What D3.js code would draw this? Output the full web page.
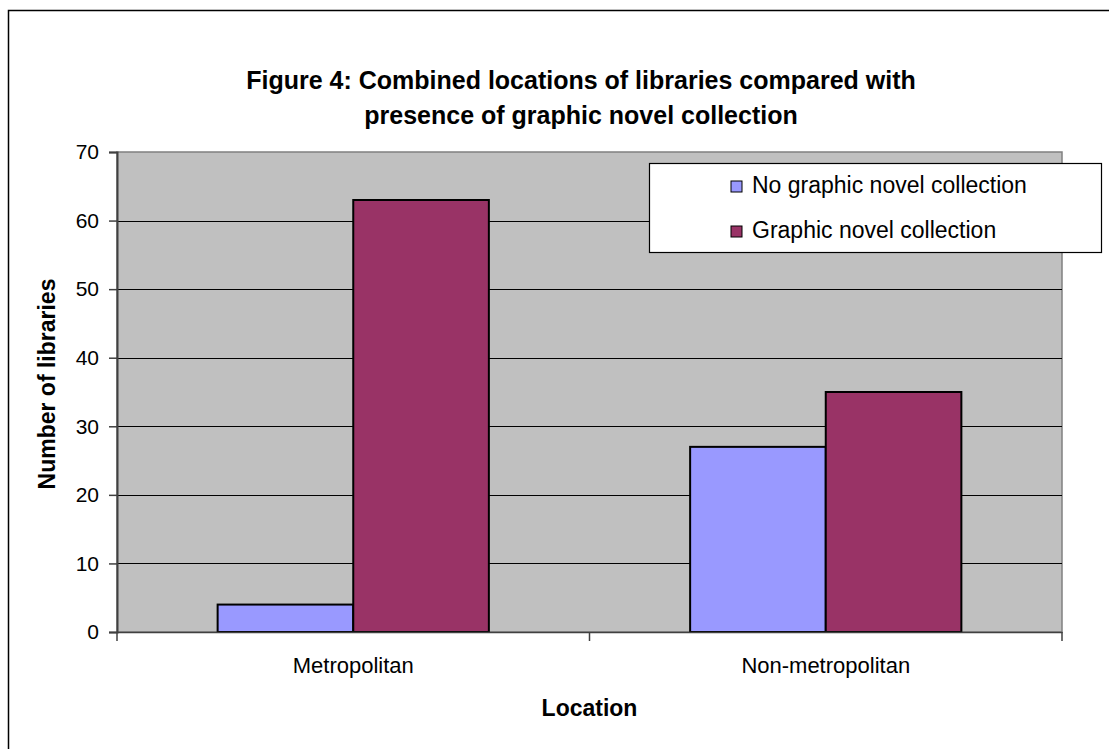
<!DOCTYPE html>
<html>
<head>
<meta charset="utf-8">
<script src="https://cdn.jsdelivr.net/npm/d3@7"></script>
<style>
  body { margin: 0; background: #fff; }
  svg { display: block; font-family: "Liberation Sans", Arial, sans-serif; }
</style>
</head>
<body>
<svg id="chart" width="1109" height="749"></svg>
<script>
"use strict";

// chart data
var categories = ["Metropolitan", "Non-metropolitan"];
var seriesNames = ["No graphic novel collection", "Graphic novel collection"];
var noCollection = [4, 27];
var withCollection = [63, 35];
var yTicks = [0, 10, 20, 30, 40, 50, 60, 70];
var titleLines = ["Figure 4: Combined locations of libraries compared with",
	"presence of graphic novel collection"];

var colors = ["#9999FF", "#993366"];
var values = [noCollection, withCollection];

var svg = d3.select("#chart");

// outer frame (runs off the right and bottom edge)
svg.append("rect")
	.attr("x", 8.5).attr("y", 10.5)
	.attr("width", 1120).attr("height", 760)
	.attr("fill", "#fff")
	.attr("stroke", "#000")
	.attr("stroke-width", 1.5);

var plot = { left: 117, right: 1062, top: 152, bottom: 632 };

var x = d3.scaleBand()
	.domain(categories)
	.range([plot.left, plot.right]);

var xInner = d3.scaleBand()
	.domain(seriesNames)
	.range([0, x.bandwidth()])
	.paddingOuter(0.742);

var y = d3.scaleLinear()
	.domain([0, 70])
	.range([plot.bottom, plot.top]);

// plot background
svg.append("rect")
	.attr("x", plot.left).attr("y", plot.top)
	.attr("width", plot.right - plot.left)
	.attr("height", plot.bottom - plot.top)
	.attr("fill", "#C0C0C0")
	.attr("stroke", "#808080")
	.attr("stroke-width", 1.5);

// gridlines
svg.append("g")
	.selectAll("line")
	.data(yTicks.filter(function (d) { return d > 0 && d < 70; }))
	.join("line")
	.attr("x1", plot.left).attr("x2", plot.right)
	.attr("y1", function (d) { return Math.round(y(d)) + 0.5; })
	.attr("y2", function (d) { return Math.round(y(d)) + 0.5; })
	.attr("stroke", "#000")
	.attr("stroke-width", 1.2);

// bars
var groups = svg.append("g")
	.selectAll("g")
	.data(categories)
	.join("g")
	.attr("transform", function (d) { return "translate(" + x(d) + ",0)"; });

groups.selectAll("rect")
	.data(function (d, i) {
		return seriesNames.map(function (s, j) {
			return { series: s, value: values[j][i], color: colors[j] };
		});
	})
	.join("rect")
	.attr("x", function (d) { return xInner(d.series); })
	.attr("y", function (d) { return y(d.value); })
	.attr("width", xInner.bandwidth())
	.attr("height", function (d) { return plot.bottom - y(d.value); })
	.attr("fill", function (d) { return d.color; })
	.attr("stroke", "#000")
	.attr("stroke-width", 2);

// y axis
var yAxis = svg.append("g")
	.attr("transform", "translate(" + plot.left + ",0)")
	.call(d3.axisLeft(y).tickValues(yTicks).tickSize(8).tickPadding(10));
yAxis.select(".domain").attr("stroke", "#404040").attr("stroke-width", 2);
yAxis.selectAll(".tick line").attr("stroke", "#404040").attr("stroke-width", 1.5);
yAxis.selectAll("text")
	.attr("font-size", 21)
	.attr("fill", "#000")
	.style("font-family", "'Liberation Sans', Arial, sans-serif");

// x axis
var xAxis = svg.append("g")
	.attr("transform", "translate(0," + plot.bottom + ")")
	.call(d3.axisBottom(x).tickSize(0).tickPadding(25));
xAxis.select(".domain").attr("stroke", "#404040").attr("stroke-width", 1.5);
xAxis.selectAll("text")
	.attr("font-size", 22)
	.attr("fill", "#000")
	.style("font-family", "'Liberation Sans', Arial, sans-serif");

// x tick marks sit between the categories
svg.append("g")
	.selectAll("line")
	.data([plot.left, x(categories[1]), plot.right])
	.join("line")
	.attr("x1", function (d) { return d; }).attr("x2", function (d) { return d; })
	.attr("y1", plot.bottom).attr("y2", plot.bottom + 9)
	.attr("stroke", "#404040")
	.attr("stroke-width", 1.5);

// title
svg.append("text")
	.attr("x", 581).attr("y", 89)
	.attr("text-anchor", "middle")
	.attr("font-size", 25)
	.attr("font-weight", "bold")
	.selectAll("tspan")
	.data(titleLines)
	.join("tspan")
	.attr("x", 581)
	.attr("dy", function (d, i) { return i === 0 ? 0 : 35; })
	.text(function (d) { return d; });

// axis titles
svg.append("text")
	.attr("x", (plot.left + plot.right) / 2)
	.attr("y", 716)
	.attr("text-anchor", "middle")
	.attr("font-size", 23)
	.attr("font-weight", "bold")
	.text("Location");

svg.append("text")
	.attr("transform", "translate(55,384) rotate(-90)")
	.attr("text-anchor", "middle")
	.attr("font-size", 23)
	.attr("font-weight", "bold")
	.text("Number of libraries");

// legend
var legend = svg.append("g").attr("transform", "translate(649,163)");
legend.append("rect")
	.attr("x", 0.5).attr("y", 0.5)
	.attr("width", 452).attr("height", 89)
	.attr("fill", "#fff")
	.attr("stroke", "#000")
	.attr("stroke-width", 1.2);

var items = legend.selectAll("g.item")
	.data(seriesNames)
	.join("g")
	.attr("class", "item")
	.attr("transform", function (d, i) { return "translate(82," + (18 + i * 45) + ")"; });

items.append("rect")
	.attr("width", 11).attr("height", 11)
	.attr("fill", function (d, i) { return colors[i]; })
	.attr("stroke", "#000")
	.attr("stroke-width", 1);

items.append("text")
	.attr("x", 21).attr("y", 12)
	.attr("font-size", 23)
	.text(function (d) { return d; });
</script>
</body>
</html>
